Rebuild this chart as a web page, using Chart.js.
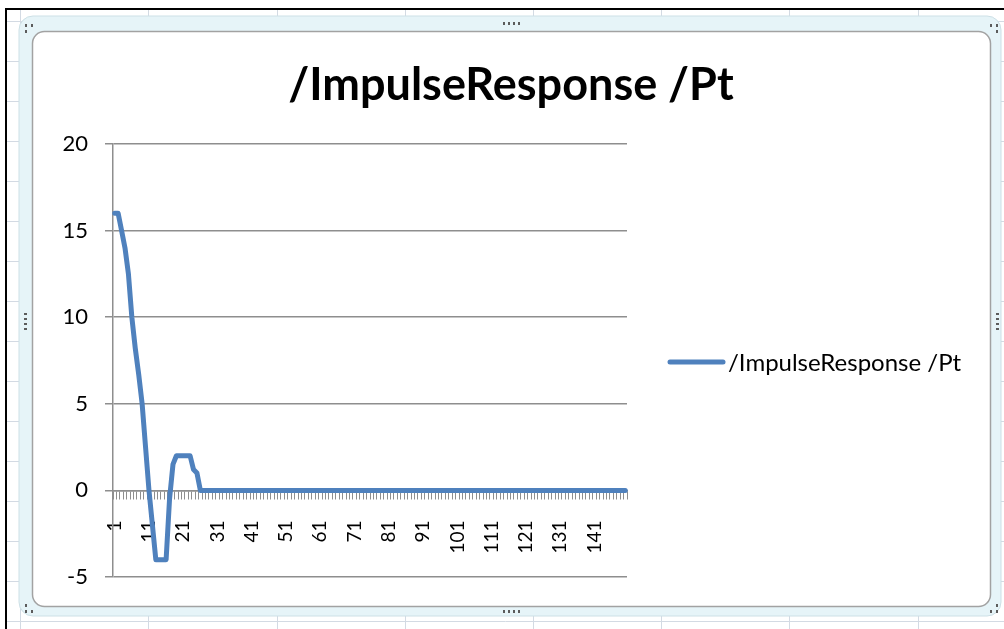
<!DOCTYPE html>
<html><head><meta charset="utf-8">
<script src="https://cdn.jsdelivr.net/npm/chart.js@4.4.1/dist/chart.umd.min.js"></script>
<style>html,body{margin:0;padding:0;background:#fff;overflow:hidden}#wrap{position:relative;width:1004px;height:629px}</style>
</head><body><div id="wrap"><canvas id="c" width="1004" height="629"></canvas></div>
<script>
const chartTitle = '/ImpulseResponse /Pt';
const seriesName = '/ImpulseResponse /Pt';
const categories = Array.from({length: 150}, (_, i) => String(i + 1));
const seriesValues = [
  16, 16, 15, 14, 12.5, 10, 8.2, 6.7, 5, 2.5,
  0, -2, -4, -4, -4, -4, -0.5, 1.5, 2, 2,
  2, 2, 2, 1.2, 1, 0, 0, 0, 0, 0,
  0, 0, 0, 0, 0, 0, 0, 0, 0, 0,
  0, 0, 0, 0, 0, 0, 0, 0, 0, 0,
  0, 0, 0, 0, 0, 0, 0, 0, 0, 0,
  0, 0, 0, 0, 0, 0, 0, 0, 0, 0,
  0, 0, 0, 0, 0, 0, 0, 0, 0, 0,
  0, 0, 0, 0, 0, 0, 0, 0, 0, 0,
  0, 0, 0, 0, 0, 0, 0, 0, 0, 0,
  0, 0, 0, 0, 0, 0, 0, 0, 0, 0,
  0, 0, 0, 0, 0, 0, 0, 0, 0, 0,
  0, 0, 0, 0, 0, 0, 0, 0, 0, 0,
  0, 0, 0, 0, 0, 0, 0, 0, 0, 0,
  0, 0, 0, 0, 0, 0, 0, 0, 0, 0
];
const yTicks = [-5, 0, 5, 10, 15, 20];
const xLabelEvery = 10;

const lineColor = '#4f81bd';
const gridColor = '#8e8e8e';

function rr(ctx, x, y, w, h, r) {
  ctx.beginPath();
  ctx.moveTo(x + r, y);
  ctx.arcTo(x + w, y, x + w, y + h, r);
  ctx.arcTo(x + w, y + h, x, y + h, r);
  ctx.arcTo(x, y + h, x, y, r);
  ctx.arcTo(x, y, x + w, y, r);
  ctx.closePath();
}

const backdrop = {
  id: 'backdrop',
  beforeDraw(chart) {
    const ctx = chart.ctx;
    ctx.save();
    ctx.fillStyle = '#ffffff';
    ctx.fillRect(0, 0, 1004, 629);
    ctx.strokeStyle = '#d3dae3';
    ctx.lineWidth = 1;
    [20.5, 148.5, 277.5, 405.5, 533.5, 661.5, 789.5, 918.5].forEach(x => {
      ctx.beginPath(); ctx.moveTo(x, 10); ctx.lineTo(x, 629); ctx.stroke();
    });
    for (let y = 21.5; y < 629; y += 40) {
      ctx.beginPath(); ctx.moveTo(7, y); ctx.lineTo(1004, y); ctx.stroke();
    }
    ctx.fillStyle = '#000';
    ctx.fillRect(5, 8, 999, 2);
    ctx.fillRect(5, 8, 2, 621);
    rr(ctx, 19, 16, 982, 600, 14);
    ctx.fillStyle = '#e6f4f8';
    ctx.fill();
    ctx.strokeStyle = '#cde0e6';
    ctx.lineWidth = 1;
    ctx.stroke();
    rr(ctx, 32.5, 31.5, 958, 575, 12);
    ctx.fillStyle = '#ffffff';
    ctx.fill();
    ctx.strokeStyle = '#a2a2a2';
    ctx.lineWidth = 1.5;
    ctx.stroke();
    ctx.fillStyle = '#5c5c5c';
    [503, 508, 513, 518].forEach(x => { ctx.fillRect(x, 22, 2, 3); ctx.fillRect(x, 610, 2, 3); });
    [313, 318, 323, 328].forEach(y => { ctx.fillRect(24, y, 3, 2); ctx.fillRect(996, y, 3, 2); });
    [[25,24],[31,24],[25,30],[990,24],[996,24],[996,30],[25,604],[25,610],[31,610],[996,604],[990,610],[996,610]]
      .forEach(p => ctx.fillRect(p[0], p[1], 2, 3));
    ctx.restore();
  }
};

const labelsPlugin = {
  id: 'labelsPlugin',
  afterDraw(chart) {
    const ctx = chart.ctx;
    const ds = chart.data.datasets[0];
    ctx.save();
    ctx.font = 'bold 45px Lato';
    ctx.fillStyle = '#000';
    ctx.textAlign = 'center';
    ctx.textBaseline = 'alphabetic';
    ctx.fillText(chartTitle, 511, 100);
    ctx.strokeStyle = ds.borderColor;
    ctx.lineWidth = 5;
    ctx.lineCap = 'round';
    ctx.beginPath();
    ctx.moveTo(670, 362);
    ctx.lineTo(723, 362);
    ctx.stroke();
    ctx.font = '24px Lato';
    ctx.textAlign = 'left';
    ctx.textBaseline = 'middle';
    ctx.fillStyle = '#000';
    ctx.fillText(ds.label, 728, 363);
    ctx.restore();
  }
};

new Chart(document.getElementById('c').getContext('2d'), {
  type: 'line',
  data: {
    labels: categories,
    datasets: [{
      label: seriesName,
      data: seriesValues,
      borderColor: lineColor,
      backgroundColor: lineColor,
      borderWidth: 5,
      pointRadius: 0,
      pointHoverRadius: 0,
      tension: 0,
      fill: false,
      borderJoinStyle: 'round',
      borderCapStyle: 'round'
    }]
  },
  options: {
    responsive: false,
    animation: false,
    devicePixelRatio: 1,
    layout: { padding: { left: 0, top: 144, right: 377, bottom: 52 } },
    plugins: { legend: { display: false }, title: { display: false }, tooltip: { enabled: false } },
    scales: {
      x: {
        type: 'category',
        position: { y: 0 },
        offset: true,
        grid: { display: true, drawOnChartArea: false, drawTicks: true, tickLength: 8, offset: true, color: gridColor, lineWidth: 1 },
        border: { display: true, color: gridColor, width: 1.5 },
        ticks: {
          autoSkip: false, maxRotation: 90, minRotation: 90, padding: 22,
          font: { family: 'Lato', size: 19 }, color: '#000',
          callback: (v, i) => (i % xLabelEvery === 0 ? categories[i] : '')
        }
      },
      y: {
        min: yTicks[0],
        max: yTicks[yTicks.length - 1],
        afterBuildTicks: (s) => { s.ticks = yTicks.map(v => ({ value: v })); },
        afterFit: (s) => { s.width = 113; },
        ticks: { padding: 17, font: { family: 'Lato', size: 22 }, color: '#000' },
        grid: { color: gridColor, lineWidth: 1.5, tickLength: 8, drawTicks: true },
        border: { display: true, color: gridColor, width: 1.5 }
      }
    }
  },
  plugins: [backdrop, labelsPlugin]
});
</script>
</body></html>
